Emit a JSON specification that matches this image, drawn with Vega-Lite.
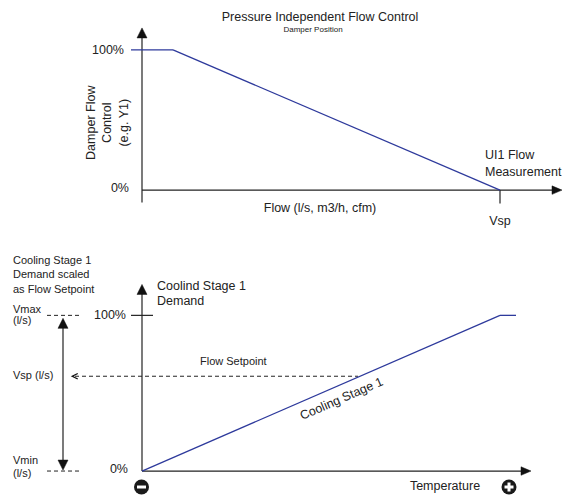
{
  "$schema": "https://vega.github.io/schema/vega-lite/v6.json",
  "width": 570,
  "height": 495,
  "padding": 0,
  "autosize": {"type": "fit", "contains": "padding"},
  "config": {"view": {"stroke": null}, "text": {"font": "Liberation Sans", "color": "#222222"}},
  "datasets": {
    "solid": [
      {"x": 142, "y": 34, "x2": 142, "y2": 203},
      {"x": 142, "y": 190.5, "x2": 555, "y2": 190.5},
      {"x": 500, "y": 190.5, "x2": 500, "y2": 204},
      {"x": 142, "y": 291, "x2": 142, "y2": 472},
      {"x": 142, "y": 472, "x2": 524, "y2": 472},
      {"x": 131, "y": 316, "x2": 153, "y2": 316},
      {"x": 63, "y": 324, "x2": 63, "y2": 465}
    ],
    "dashed": [
      {"x": 47, "y": 316, "x2": 81, "y2": 316},
      {"x": 47, "y": 472, "x2": 81, "y2": 472},
      {"x": 75, "y": 377, "x2": 358, "y2": 377}
    ],
    "blue": [
      {"x": 131, "y": 50, "x2": 173, "y2": 50},
      {"x": 173, "y": 50, "x2": 500, "y2": 190.5},
      {"x": 142, "y": 472, "x2": 500, "y2": 316},
      {"x": 500, "y": 316, "x2": 516, "y2": 316}
    ],
    "up": [{"x": 142, "y": 33}, {"x": 142, "y": 290}, {"x": 63, "y": 324}],
    "down": [{"x": 63, "y": 466}],
    "right": [{"x": 557, "y": 190.5}, {"x": 526, "y": 472}],
    "left": [{"x": 75, "y": 377}],
    "signs": [{"x": 141.5, "y": 488, "sign": "minus"}, {"x": 509, "y": 488, "sign": "plus"}],
    "hbars": [{"x": 137, "y": 488, "x2": 146, "y2": 488}, {"x": 504.5, "y": 488, "x2": 513.5, "y2": 488}],
    "vbars": [{"x": 509, "y": 483.5, "x2": 509, "y2": 492.5}],
    "center12": [
      {"x": 320, "y": 17, "text": "Pressure Independent Flow Control"},
      {"x": 320, "y": 208, "text": "Flow (l/s, m3/h, cfm)"},
      {"x": 500, "y": 221, "text": "Vsp"},
      {"x": 445, "y": 487, "text": "Temperature"}
    ],
    "center8": [{"x": 313, "y": 30, "text": "Damper Position"}],
    "right12": [
      {"x": 124, "y": 50, "text": "100%"},
      {"x": 129, "y": 188, "text": "0%"},
      {"x": 126, "y": 316, "text": "100%"},
      {"x": 128, "y": 470, "text": "0%"}
    ],
    "left12": [
      {"x": 485, "y": 155, "text": "UI1 Flow"},
      {"x": 485, "y": 172, "text": "Measurement"},
      {"x": 157, "y": 287, "text": "Coolind Stage 1"},
      {"x": 157, "y": 302, "text": "Demand"}
    ],
    "left11": [
      {"x": 200, "y": 363, "text": "Flow Setpoint"},
      {"x": 13, "y": 262, "text": "Cooling Stage 1"},
      {"x": 13, "y": 276, "text": "Demand scaled"},
      {"x": 13, "y": 291, "text": "as Flow Setpoint"},
      {"x": 13, "y": 311, "text": "Vmax"},
      {"x": 13, "y": 322, "text": "(l/s)"},
      {"x": 13, "y": 377, "text": "Vsp (l/s)"},
      {"x": 13, "y": 462, "text": "Vmin"},
      {"x": 13, "y": 475, "text": "(l/s)"}
    ],
    "vertical": [
      {"x": 91, "y": 123, "text": "Damper Flow"},
      {"x": 107, "y": 123, "text": "Control"},
      {"x": 124, "y": 123, "text": "(e.g. Y1)"}
    ],
    "slanted": [{"x": 341.5, "y": 399.5, "text": "Cooling Stage 1"}]
  },
  "layer": [
    {
      "data": {"name": "solid"},
      "mark": {"type": "rule", "color": "#222222", "strokeWidth": 1.2},
      "encoding": {
        "x": {"field": "x", "type": "quantitative", "scale": {"domain": [0, 570], "nice": false, "zero": false}, "axis": null},
        "y": {"field": "y", "type": "quantitative", "scale": {"domain": [0, 495], "nice": false, "zero": false, "reverse": true}, "axis": null},
        "x2": {"field": "x2"},
        "y2": {"field": "y2"}
      }
    },
    {
      "data": {"name": "dashed"},
      "mark": {"type": "rule", "color": "#222222", "strokeWidth": 1, "strokeDash": [4, 3]},
      "encoding": {
        "x": {"field": "x", "type": "quantitative"},
        "y": {"field": "y", "type": "quantitative"},
        "x2": {"field": "x2"},
        "y2": {"field": "y2"}
      }
    },
    {
      "data": {"name": "blue"},
      "mark": {"type": "rule", "color": "#2e3a9c", "strokeWidth": 1.3},
      "encoding": {
        "x": {"field": "x", "type": "quantitative"},
        "y": {"field": "y", "type": "quantitative"},
        "x2": {"field": "x2"},
        "y2": {"field": "y2"}
      }
    },
    {
      "data": {"name": "up"},
      "mark": {"type": "point", "shape": "M 0 -1 L 1 1 L -1 1 Z", "filled": true, "fill": "#111111", "stroke": "#111111", "strokeWidth": 0.5, "size": 100, "opacity": 1},
      "encoding": {"x": {"field": "x", "type": "quantitative"}, "y": {"field": "y", "type": "quantitative"}}
    },
    {
      "data": {"name": "down"},
      "mark": {"type": "point", "shape": "M 0 1 L 1 -1 L -1 -1 Z", "filled": true, "fill": "#111111", "stroke": "#111111", "strokeWidth": 0.5, "size": 100, "opacity": 1},
      "encoding": {"x": {"field": "x", "type": "quantitative"}, "y": {"field": "y", "type": "quantitative"}}
    },
    {
      "data": {"name": "right"},
      "mark": {"type": "point", "shape": "M 1 0 L -1 -0.85 L -1 0.85 Z", "filled": true, "fill": "#111111", "stroke": "#111111", "strokeWidth": 0.5, "size": 100, "opacity": 1},
      "encoding": {"x": {"field": "x", "type": "quantitative"}, "y": {"field": "y", "type": "quantitative"}}
    },
    {
      "data": {"name": "left"},
      "mark": {"type": "point", "shape": "M 1 -1 L -1 0 L 1 1", "filled": false, "color": "#111111", "strokeWidth": 1.3, "size": 30, "opacity": 1},
      "encoding": {"x": {"field": "x", "type": "quantitative"}, "y": {"field": "y", "type": "quantitative"}}
    },
    {
      "data": {"name": "signs"},
      "mark": {"type": "point", "shape": "circle", "filled": true, "color": "#1a1a1a", "size": 225, "opacity": 1},
      "encoding": {"x": {"field": "x", "type": "quantitative"}, "y": {"field": "y", "type": "quantitative"}}
    },
    {
      "data": {"name": "hbars"},
      "mark": {"type": "rule", "color": "#ffffff", "strokeWidth": 3},
      "encoding": {
        "x": {"field": "x", "type": "quantitative"},
        "y": {"field": "y", "type": "quantitative"},
        "x2": {"field": "x2"},
        "y2": {"field": "y2"}
      }
    },
    {
      "data": {"name": "vbars"},
      "mark": {"type": "rule", "color": "#ffffff", "strokeWidth": 3},
      "encoding": {
        "x": {"field": "x", "type": "quantitative"},
        "y": {"field": "y", "type": "quantitative"},
        "x2": {"field": "x2"},
        "y2": {"field": "y2"}
      }
    },
    {
      "data": {"name": "center12"},
      "mark": {"type": "text", "align": "center", "baseline": "middle", "fontSize": 12.5},
      "encoding": {"x": {"field": "x", "type": "quantitative"}, "y": {"field": "y", "type": "quantitative"}, "text": {"field": "text"}}
    },
    {
      "data": {"name": "center8"},
      "mark": {"type": "text", "align": "center", "baseline": "middle", "fontSize": 8},
      "encoding": {"x": {"field": "x", "type": "quantitative"}, "y": {"field": "y", "type": "quantitative"}, "text": {"field": "text"}}
    },
    {
      "data": {"name": "right12"},
      "mark": {"type": "text", "align": "right", "baseline": "middle", "fontSize": 12.5},
      "encoding": {"x": {"field": "x", "type": "quantitative"}, "y": {"field": "y", "type": "quantitative"}, "text": {"field": "text"}}
    },
    {
      "data": {"name": "left12"},
      "mark": {"type": "text", "align": "left", "baseline": "middle", "fontSize": 12.5},
      "encoding": {"x": {"field": "x", "type": "quantitative"}, "y": {"field": "y", "type": "quantitative"}, "text": {"field": "text"}}
    },
    {
      "data": {"name": "left11"},
      "mark": {"type": "text", "align": "left", "baseline": "middle", "fontSize": 11},
      "encoding": {"x": {"field": "x", "type": "quantitative"}, "y": {"field": "y", "type": "quantitative"}, "text": {"field": "text"}}
    },
    {
      "data": {"name": "vertical"},
      "mark": {"type": "text", "align": "center", "baseline": "middle", "fontSize": 12.5, "angle": 270},
      "encoding": {"x": {"field": "x", "type": "quantitative"}, "y": {"field": "y", "type": "quantitative"}, "text": {"field": "text"}}
    },
    {
      "data": {"name": "slanted"},
      "mark": {"type": "text", "align": "center", "baseline": "middle", "fontSize": 12.5, "angle": 336.5},
      "encoding": {"x": {"field": "x", "type": "quantitative"}, "y": {"field": "y", "type": "quantitative"}, "text": {"field": "text"}}
    }
  ]
}
